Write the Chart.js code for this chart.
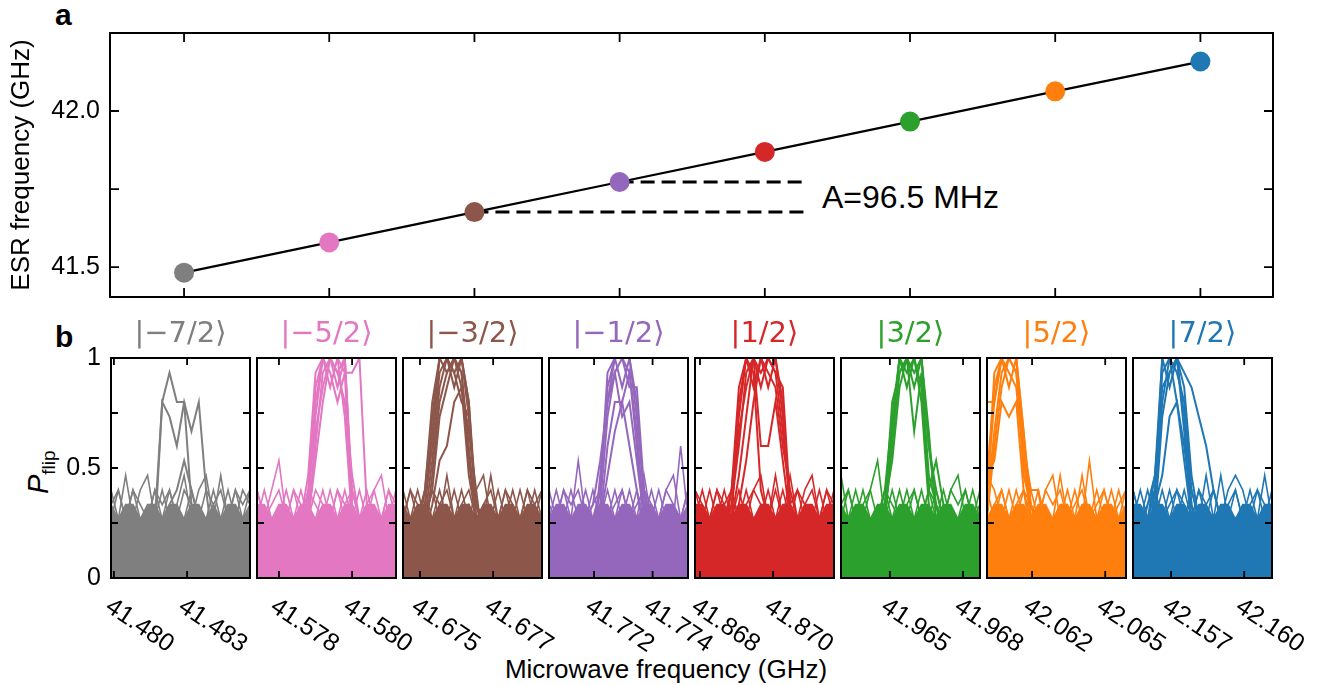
<!DOCTYPE html>
<html>
<head>
<meta charset="utf-8">
<script src="https://cdn.jsdelivr.net/npm/chart.js@4.4.1/dist/chart.umd.min.js"></script>
<style>
  body { margin: 0; width: 1320px; height: 685px; background: #fff; position: relative; overflow: hidden; font-family: 'Liberation Sans', Arial, sans-serif; }
  canvas { position: absolute; }
  .txt { position: absolute; color: #000; line-height: 1; white-space: nowrap; }
</style>
</head>
<body>
<div class="txt" style="left:55px;top:0px;font-weight:bold;font-size:30px">a</div>
<div class="txt" style="left:55px;top:322px;font-weight:bold;font-size:30px">b</div>
<div class="txt" id="hfLabel" style="left:822px;top:181px;font-size:32px"></div>
<div class="txt" style="left:0;width:1320px;text-align:center;top:656px;font-size:26px;padding-left:12px;box-sizing:border-box">Microwave frequency (GHz)</div>
<div class="txt" style="left:14px;top:456px;font-size:29px;transform:rotate(-90deg);transform-origin:24px 14px"><i>P</i><sub style="font-size:19px">flip</sub></div>
<script>
Chart.defaults.font.family = "'Liberation Sans', Arial, sans-serif";
Chart.defaults.color = '#000';

// panel a: ESR frequency of each nuclear spin state
const states = ['|−7/2⟩', '|−5/2⟩', '|−3/2⟩', '|−1/2⟩', '|1/2⟩', '|3/2⟩', '|5/2⟩', '|7/2⟩'];
const stateColors = ['#7f7f7f', '#e377c2', '#8c564b', '#9467bd', '#d62728', '#2ca02c', '#ff7f0e', '#1f77b4'];
const esrFreq = [41.482, 41.579, 41.676, 41.7725, 41.869, 41.966, 42.063, 42.1585];
const esrTickValues = [41.5, 41.75, 42.0, 42.25];
const esrTickLabels = ['41.5', '', '42.0', ''];
const hyperfineLabel = 'A=96.5 MHz';
const dashEnd = 4.3;

// panel b: flip counts (out of 15 shots) over a 20 point sweep
const shots = 15;
const sweepStep = 0.00025;
const sweepStart = [41.4799, 41.57675, 41.67442, 41.77046, 41.86733, 41.96333, 42.06096, 42.1562];
const sweepTickValues = [[41.48, 41.4825], [41.5775, 41.58], [41.675, 41.6775], [41.772, 41.774],
  [41.8675, 41.87], [41.965, 41.9675], [42.0625, 42.065], [42.1575, 42.16]];
const sweepTickLabels = [['41.480', '41.483'], ['41.578', '41.580'], ['41.675', '41.677'], ['41.772', '41.774'],
  ['41.868', '41.870'], ['41.965', '41.968'], ['42.062', '42.065'], ['42.157', '42.160']];
const pTickValues = [0, 0.25, 0.5, 0.75, 1];
const pTickLabels = ['0', '', '0.5', '', '1'];

// upper edge of the dense background traces
const noiseEdge = [
  [5,4,5,5,4,5,5,4,5,5,4,5,5,4,5,4,5,5,4,5],
  [5,5,4,5,5,4,5,5,4,5,5,4,5,5,4,5,5,4,5,5],
  [5,4,5,5,4,5,5,4,5,5,4,5,5,4,5,5,4,5,5,4],
  [4,5,5,4,5,5,4,5,5,4,5,5,4,5,5,4,5,5,4,5],
  [5,5,4,5,5,4,5,5,4,5,5,4,5,5,4,5,5,4,5,5],
  [5,4,5,5,4,5,5,4,5,5,4,5,5,4,5,5,4,5,5,4],
  [4,5,5,4,5,5,4,5,5,4,5,5,4,5,5,4,5,5,4,5],
  [5,5,4,5,5,4,5,5,4,5,5,4,5,5,4,5,5,4,5,5]
];
const noiseSpikesA = [
  [6,4,7,4,6,7,4,6,4,5,7,4,6,7,4,7,4,6,4,6],
  [6,4,6,8,4,6,4,6,5,4,6,4,6,4,6,4,6,7,4,6],
  [6,4,6,4,6,4,7,4,6,4,6,7,4,6,4,6,4,6,4,6],
  [6,4,6,4,8,4,6,4,6,4,6,4,6,4,6,4,6,7,4,6],
  [6,4,6,4,6,4,6,4,6,7,4,7,4,7,4,6,7,4,6,4],
  [7,4,6,4,6,8,4,6,4,6,4,6,4,6,4,6,7,4,6,4],
  [6,4,6,4,6,4,6,4,6,7,4,6,4,7,4,6,4,6,4,6],
  [6,4,6,4,6,4,6,4,6,4,7,4,7,4,6,4,6,4,7,4]
];
const noiseSpikesB = [
  [4,6,4,6,4,4,6,4,6,4,4,6,4,4,6,4,6,4,6,5],
  [4,6,4,4,6,4,6,4,4,6,4,6,4,6,4,6,4,4,6,4],
  [4,6,4,6,4,6,4,6,4,5,4,4,7,4,6,4,6,4,6,4],
  [4,6,4,6,4,6,4,5,4,6,4,6,4,7,4,6,4,4,9,4],
  [4,6,4,6,4,6,4,6,4,4,6,4,6,4,6,4,4,6,4,6],
  [4,6,4,6,4,4,6,4,6,4,6,4,6,4,6,4,4,6,4,6],
  [7,6,4,6,4,6,4,6,4,4,7,4,6,4,8,4,6,4,6,4],
  [4,6,4,6,4,6,4,6,4,6,4,6,4,6,7,6,4,6,4,6]
];
const noiseSpikesC = [
  [5,6,4,6,5,4,6,5,6,4,6,5,4,6,5,6,4,6,5,6],
  [6,4,5,6,4,6,5,4,6,5,4,6,5,6,4,5,6,4,6,5],
  [4,6,5,4,6,5,6,4,5,6,4,5,6,4,6,5,4,6,5,6],
  [5,4,6,5,6,4,5,6,4,5,6,4,5,6,5,4,6,5,4,6],
  [6,5,4,6,5,6,4,5,6,5,4,6,4,5,6,5,6,4,6,5],
  [5,6,4,5,6,4,6,5,4,5,6,4,6,5,4,6,5,6,4,5],
  [4,5,6,4,5,6,5,4,6,5,6,4,5,6,4,5,6,4,5,6],
  [6,4,5,6,4,5,6,5,4,6,5,6,4,5,6,4,5,6,5,4]
];

// resonant traces for each state
const runsM72 = [
  [3,4,2,4,3,4,4,12,14,12,12,5,4,3,4,3,4,2,4,3],
  [2,3,4,3,4,3,3,12,11,9,12,10,12,6,2,4,3,4,3,4],
  [4,3,4,2,3,4,3,4,5,6,8,6,4,3,4,2,3,4,2,3]
];
const runsM52 = [
  [3,4,2,4,3,2,4,5,11,15,15,15,15,6,4,3,4,2,3,4],
  [4,2,3,4,2,4,3,4,9,14,15,13,15,5,3,4,2,4,3,2],
  [2,4,3,2,4,3,2,6,12,15,13,15,14,4,2,3,4,3,2,4],
  [3,3,4,3,2,4,3,3,10,13,15,14,12,7,4,2,3,4,4,3],
  [4,2,3,4,3,2,4,5,13,15,14,12,14,14,15,5,3,2,4,3],
  [2,3,4,3,4,3,2,4,8,12,15,15,11,4,3,4,2,3,3,4],
  [3,4,2,3,3,4,4,7,14,15,15,14,15,5,2,3,4,2,4,2]
];
const runsM32 = [
  [3,4,2,5,9,14,15,15,15,11,5,3,4,2,3,4,3,2,4,3],
  [4,2,3,4,8,13,15,14,15,12,4,4,2,3,4,2,4,3,2,4],
  [2,3,4,6,11,15,14,15,13,10,6,2,3,4,2,3,2,4,3,2],
  [3,4,3,3,7,12,14,15,14,9,4,3,4,3,4,2,3,4,4,3],
  [4,3,2,5,10,15,15,13,15,12,5,4,2,4,3,4,2,3,2,4],
  [2,4,3,4,6,11,13,15,14,8,4,2,3,2,4,3,4,2,3,4],
  [3,2,4,3,5,8,9,12,13,7,4,3,4,3,2,4,3,4,4,2],
  [4,3,3,6,12,15,15,14,12,11,5,4,2,4,3,2,4,3,2,3]
];
const runsM12 = [
  [3,4,2,4,3,4,3,6,13,15,15,15,12,5,3,4,2,3,4,3],
  [4,2,3,2,4,3,4,5,11,14,15,14,10,4,2,3,4,2,3,4],
  [2,3,4,3,2,4,2,7,12,15,13,15,11,6,4,2,3,4,2,3],
  [3,4,3,4,3,2,3,4,9,12,12,14,9,4,3,4,2,3,4,2],
  [4,2,4,3,4,3,4,6,14,15,15,13,13,6,2,3,4,3,2,4],
  [2,3,2,4,3,4,5,8,12,14,11,12,8,4,4,2,3,4,3,3],
  [3,4,3,2,4,3,2,4,7,10,12,9,6,3,3,4,2,3,4,2]
];
const runsP12 = [
  [3,4,2,4,3,6,11,15,15,14,15,15,11,5,3,4,2,3,4,3],
  [4,2,3,2,4,5,9,14,15,15,13,15,12,4,2,3,4,2,3,4],
  [2,3,4,3,2,4,12,15,13,15,14,13,9,6,4,2,3,4,2,3],
  [3,4,3,4,3,5,10,13,15,9,9,12,8,4,3,4,2,3,4,2],
  [4,2,4,3,4,6,13,15,14,6,4,3,4,3,2,3,4,3,2,4],
  [2,3,2,4,3,4,5,8,12,15,15,14,13,5,4,2,3,4,3,3],
  [3,4,3,2,4,4,7,11,15,13,15,14,10,5,3,4,2,3,4,2]
];
const runsP32 = [
  [3,4,2,4,3,4,5,10,15,15,14,15,9,5,3,4,2,3,4,3],
  [4,2,3,2,4,3,4,9,14,15,15,13,6,8,5,3,4,2,3,4],
  [2,3,4,3,2,4,6,11,15,13,15,15,10,4,4,2,3,4,2,3],
  [3,4,3,4,3,2,5,8,13,15,10,14,7,5,3,4,2,3,4,2],
  [4,2,4,3,4,3,4,10,15,14,15,12,5,3,2,3,4,3,2,4],
  [2,3,2,4,3,4,5,12,14,15,13,15,9,6,4,2,3,4,3,3]
];
const runsP52 = [
  [6,12,15,15,14,9,4,3,4,2,3,4,3,2,4,3,4,2,3,4],
  [5,10,14,15,15,10,5,4,2,3,4,2,4,3,2,4,3,4,2,3],
  [7,13,15,14,13,8,4,2,3,4,2,3,2,4,3,2,4,3,4,2],
  [12,12,15,15,15,7,5,3,4,3,4,3,4,3,4,3,2,4,3,4],
  [5,14,15,13,15,10,4,4,2,4,3,4,3,2,3,4,3,2,4,3],
  [4,9,13,15,14,9,6,6,3,2,4,2,3,4,2,3,4,3,2,4],
  [7,8,12,11,12,6,3,2,4,3,2,4,2,3,4,2,3,4,3,2]
];
const runsP72 = [
  [3,4,2,6,14,15,15,11,5,3,4,2,3,4,2,3,4,3,2,4],
  [4,2,3,5,12,15,14,12,6,4,2,3,4,2,3,4,2,4,3,3],
  [2,3,4,7,15,13,15,10,4,2,3,4,2,3,4,2,3,2,4,2],
  [3,4,3,4,11,14,15,14,13,11,9,6,4,3,2,4,3,4,3,4],
  [4,2,4,6,15,15,12,9,5,3,4,3,3,4,3,3,2,3,2,3],
  [2,3,5,7,13,14,15,13,7,4,2,4,2,3,4,2,4,3,4,2],
  [3,4,2,5,7,11,12,8,4,2,3,2,4,2,3,4,3,2,3,4]
];
const resonanceRuns = [runsM72, runsM52, runsM32, runsM12, runsP12, runsP32, runsP52, runsP72];

// layout of the small panels
const panelLeft = [111, 257, 403, 549, 695, 841, 987, 1133];
const panelWidth = 139;

function makeCanvas(left, top, w, h) {
  const c = document.createElement('canvas');
  c.width = w;
  c.height = h;
  c.style.left = left + 'px';
  c.style.top = top + 'px';
  c.style.width = w + 'px';
  c.style.height = h + 'px';
  document.body.appendChild(c);
  return c;
}

// box frame with ticks pointing inwards on all four sides
const frameTicks = {
  id: 'frameTicks',
  afterDatasetsDraw(chart, args, opts) {
    const {ctx, chartArea: a, scales} = chart;
    ctx.save();
    ctx.strokeStyle = '#000';
    ctx.lineWidth = opts.width;
    ctx.beginPath();
    scales.x.ticks.forEach(t => {
      const px = scales.x.getPixelForValue(t.value);
      ctx.moveTo(px, a.bottom); ctx.lineTo(px, a.bottom - opts.len);
      ctx.moveTo(px, a.top); ctx.lineTo(px, a.top + opts.len);
    });
    scales.y.ticks.forEach(t => {
      const py = scales.y.getPixelForValue(t.value);
      ctx.moveTo(a.left, py); ctx.lineTo(a.left + opts.len, py);
      ctx.moveTo(a.right, py); ctx.lineTo(a.right - opts.len, py);
    });
    ctx.stroke();
    ctx.lineWidth = 2;
    ctx.strokeRect(a.left, a.top, a.right - a.left, a.bottom - a.top);
    ctx.restore();
  }
};

// x tick labels slanting down to the right
const slantTicks = {
  id: 'slantTicks',
  afterDraw(chart, args, opts) {
    const {ctx, chartArea: a, scales} = chart;
    ctx.save();
    ctx.fillStyle = '#000';
    ctx.font = "25px 'Liberation Sans', Arial, sans-serif";
    ctx.textAlign = 'left';
    ctx.textBaseline = 'alphabetic';
    scales.x.ticks.forEach((t, i) => {
      const px = scales.x.getPixelForValue(t.value);
      ctx.save();
      ctx.translate(px - 10, a.bottom + 32);
      ctx.rotate(34 * Math.PI / 180);
      ctx.fillText(opts.labels[i], 0, 0);
      ctx.restore();
    });
    ctx.restore();
  }
};

document.getElementById('hfLabel').textContent = hyperfineLabel;

// ---- panel a ----
new Chart(makeCanvas(0, 0, 1320, 322), {
  type: 'line',
  data: {
    datasets: [
      {
        data: esrFreq.map((f, i) => ({x: i, y: f})),
        borderColor: '#000',
        borderWidth: 2.2,
        pointRadius: 10,
        pointBackgroundColor: stateColors,
        pointBorderWidth: 0,
        order: 0
      },
      {
        data: [{x: 3, y: esrFreq[3]}, {x: dashEnd, y: esrFreq[3]}],
        borderColor: '#000', borderWidth: 3, borderDash: [14, 7], pointRadius: 0, order: 1
      },
      {
        data: [{x: 2, y: esrFreq[2]}, {x: dashEnd, y: esrFreq[2]}],
        borderColor: '#000', borderWidth: 3, borderDash: [14, 7], pointRadius: 0, order: 1
      }
    ]
  },
  options: {
    responsive: false,
    animation: false,
    events: [],
    layout: {padding: {left: 0, top: 33, right: 47, bottom: 0}},
    plugins: {
      legend: {display: false},
      tooltip: {enabled: false},
      frameTicks: {len: 9, width: 1.8}
    },
    scales: {
      x: {
        type: 'linear', min: -0.51, max: 7.5,
        afterBuildTicks: s => { s.ticks = esrFreq.map((f, i) => ({value: i})); },
        ticks: {display: false},
        grid: {display: false},
        border: {display: false},
        afterFit: s => { s.height = 13; }
      },
      y: {
        type: 'linear', min: 41.404, max: 42.25,
        afterBuildTicks: s => { s.ticks = esrTickValues.map(v => ({value: v})); },
        ticks: {autoSkip: false, callback: (v, i) => esrTickLabels[i], font: {size: 25}, padding: 10, color: '#000'},
        grid: {display: false, drawTicks: false},
        border: {display: false},
        title: {display: true, text: 'ESR frequency (GHz)', font: {size: 26}, color: '#000', padding: {top: 6, bottom: 0}},
        afterFit: s => { s.width = 110; }
      }
    }
  },
  plugins: [frameTicks]
});

// ---- panel b ----
states.forEach((state, p) => {
  const left = panelLeft[p];
  const cLeft = p === 0 ? 0 : left - 40;
  const cRight = Math.min(1320, left + panelWidth + 80);
  const canvas = makeCanvas(cLeft, 310, cRight - cLeft, 375);
  const n = noiseEdge[p].length;
  const freqs = Array.from({length: n}, (_, i) => sweepStart[p] + i * sweepStep);
  const col = stateColors[p];
  const line = (counts, width, extra) => Object.assign({
    data: counts.map(c => c / shots),
    borderColor: col,
    backgroundColor: col,
    borderWidth: width,
    pointRadius: 0,
    tension: 0
  }, extra || {});
  const datasets = [
    line(noiseEdge[p], 1.6, {fill: 'origin'}),
    line(noiseSpikesA[p], 1.6),
    line(noiseSpikesB[p], 1.6),
    line(noiseSpikesC[p], 1.6),
    ...resonanceRuns[p].map(r => line(r, 2))
  ];

  new Chart(canvas, {
    type: 'line',
    data: {labels: freqs, datasets},
    options: {
      responsive: false,
      animation: false,
      events: [],
      layout: {padding: {left: 0, right: cRight - (left + panelWidth), top: 10, bottom: 0}},
      plugins: {
        legend: {display: false},
        tooltip: {enabled: false},
        title: {
          display: true, text: state, color: col, fullSize: false,
          font: {family: "'DejaVu Sans', sans-serif", size: 29, weight: 'normal', lineHeight: 1},
          padding: {top: 0, bottom: 9}
        },
        frameTicks: {len: 7, width: 1.8},
        slantTicks: {labels: sweepTickLabels[p]}
      },
      scales: {
        x: {
          type: 'linear', min: freqs[0], max: freqs[n - 1],
          afterBuildTicks: s => { s.ticks = sweepTickValues[p].map(v => ({value: v})); },
          ticks: {display: false},
          grid: {display: false},
          border: {display: false},
          afterFit: s => { s.height = 107; }
        },
        y: {
          type: 'linear', min: 0, max: 1,
          afterBuildTicks: s => { s.ticks = pTickValues.map(v => ({value: v})); },
          ticks: {display: p === 0, autoSkip: false, callback: (v, i) => pTickLabels[i], font: {size: 25}, padding: 10, color: '#000'},
          grid: {display: false, drawTicks: false},
          border: {display: false},
          afterFit: s => { s.width = left - cLeft; }
        }
      }
    },
    plugins: [frameTicks, slantTicks]
  });
});
</script>
</body>
</html>
